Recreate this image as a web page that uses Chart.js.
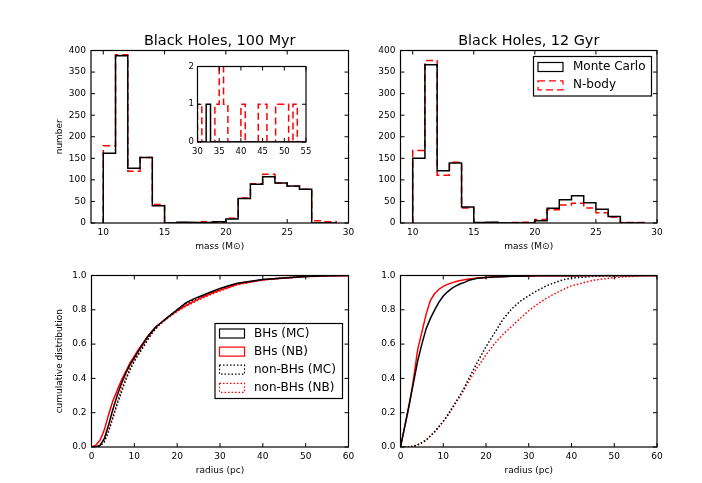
<!DOCTYPE html>
<html>
<head>
<meta charset="utf-8">
<script src="https://cdn.jsdelivr.net/npm/chart.js@4.4.1/dist/chart.umd.min.js"></script>
<style>
  html, body { margin: 0; padding: 0; background: #fff; }
  #wrap { position: relative; width: 702px; height: 483px; }
  canvas { position: absolute; left: 0; top: 0; }
</style>
</head>
<body>
<div id="wrap">
  <canvas id="hist100" width="702" height="483"></canvas>
  <canvas id="hist12" width="702" height="483"></canvas>
  <canvas id="cdf100" width="702" height="483"></canvas>
  <canvas id="cdf12" width="702" height="483"></canvas>
  <canvas id="inset" width="702" height="483"></canvas>
</div>
<script>
// mass histogram, 1 Msun bins from 10 to 29
const massEdges = [10, 11, 12, 13, 14, 15, 16, 17, 18, 19, 20, 21, 22, 23, 24, 25, 26, 27, 28, 29];
const mc100 = [162, 388, 127, 152, 40, 0, 2, 1, 1, 3, 9, 57, 90, 107, 93, 86, 78, 0, 0];
const nb100 = [179, 390, 120, 152, 43, 0, 1, 1, 3, 2, 11, 58, 91, 113, 93, 85, 78, 5, 3];
const mc12 = [150, 367, 121, 139, 37, 1, 2, 0, 0, 0, 5, 34, 54, 63, 47, 32, 15, 0, 0];
const nb12 = [168, 377, 111, 141, 35, 0, 1, 0, 1, 2, 8, 31, 42, 46, 35, 24, 14, 1, 1];

// inset: massive tail, 30 to 55 Msun
const insetEdges = [30, 31, 32, 33, 34, 35, 36, 37, 38, 39, 40, 41, 42, 43, 44, 45, 46, 47, 48, 49, 50, 51, 52, 53, 54, 55];
const insetMc = [0, 0, 1, 0, 0, 0, 0, 0, 0, 0, 0, 0, 0, 0, 0, 0, 0, 0, 0, 0, 0, 0, 0, 0, 0];
const insetNb = [1, 0, 0, 0, 1, 2, 1, 0, 0, 0, 1, 0, 0, 0, 1, 1, 0, 0, 1, 1, 1, 0, 1, 0, 0];

// cumulative radial distributions
const radius = [0, 1, 2, 3, 4, 5, 6, 7, 8, 9, 10, 11, 12, 13, 14, 15, 16, 18, 20, 22, 24, 26, 28, 30, 32, 34, 36, 38, 40, 45, 50, 55, 60];
const bhMc100 = [0, 0, 0.01, 0.05, 0.13, 0.22, 0.30, 0.37, 0.43, 0.48, 0.52, 0.56, 0.60, 0.64, 0.67, 0.70, 0.72, 0.76, 0.80, 0.84, 0.865, 0.885, 0.905, 0.925, 0.94, 0.955, 0.962, 0.97, 0.976, 0.986, 0.994, 0.998, 1];
const bhNb100 = [0, 0.01, 0.04, 0.10, 0.19, 0.27, 0.33, 0.39, 0.44, 0.49, 0.53, 0.57, 0.605, 0.64, 0.67, 0.70, 0.72, 0.76, 0.795, 0.825, 0.85, 0.875, 0.895, 0.915, 0.93, 0.95, 0.958, 0.967, 0.975, 0.986, 0.994, 0.998, 1];
const starMc100 = [0, 0, 0.005, 0.03, 0.09, 0.17, 0.25, 0.32, 0.39, 0.45, 0.50, 0.54, 0.58, 0.62, 0.66, 0.69, 0.72, 0.76, 0.80, 0.835, 0.86, 0.88, 0.90, 0.92, 0.937, 0.95, 0.96, 0.968, 0.976, 0.987, 0.994, 0.998, 1];
const starNb100 = [0, 0.002, 0.01, 0.04, 0.10, 0.18, 0.26, 0.34, 0.40, 0.46, 0.505, 0.545, 0.585, 0.625, 0.66, 0.69, 0.715, 0.755, 0.79, 0.82, 0.845, 0.87, 0.89, 0.91, 0.928, 0.945, 0.955, 0.965, 0.973, 0.985, 0.993, 0.997, 1];
const bhMc12 = [0, 0.12, 0.245, 0.37, 0.50, 0.60, 0.69, 0.75, 0.80, 0.845, 0.88, 0.905, 0.925, 0.94, 0.952, 0.96, 0.972, 0.984, 0.988, 0.991, 0.993, 0.995, 0.996, 0.997, 0.998, 0.998, 0.999, 0.999, 0.999, 1, 1, 1, 1];
const bhNb12 = [0, 0.12, 0.235, 0.39, 0.565, 0.67, 0.775, 0.855, 0.895, 0.92, 0.937, 0.948, 0.957, 0.965, 0.971, 0.975, 0.979, 0.986, 0.989, 0.992, 0.994, 0.995, 0.996, 0.997, 0.998, 0.998, 0.999, 0.999, 0.999, 1, 1, 1, 1];
const starMc12 = [0, 0, 0.001, 0.004, 0.012, 0.025, 0.04, 0.065, 0.09, 0.12, 0.15, 0.185, 0.225, 0.265, 0.305, 0.35, 0.40, 0.495, 0.585, 0.665, 0.745, 0.805, 0.85, 0.882, 0.912, 0.938, 0.958, 0.975, 0.985, 0.995, 0.998, 0.999, 1];
const starNb12 = [0, 0, 0.001, 0.004, 0.012, 0.025, 0.04, 0.063, 0.088, 0.117, 0.148, 0.182, 0.22, 0.26, 0.298, 0.34, 0.385, 0.465, 0.537, 0.603, 0.657, 0.703, 0.75, 0.795, 0.832, 0.865, 0.893, 0.918, 0.94, 0.972, 0.988, 0.996, 1];

// tick labels
const massTicks = [10, 15, 20, 25, 30];
const countTicks = [0, 50, 100, 150, 200, 250, 300, 350, 400];
const insetXTicks = [30, 35, 40, 45, 50, 55];
const insetYTicks = [0, 1, 2];
const radiusTicks = [0, 10, 20, 30, 40, 50, 60];
const cdfTicks = [0, 0.2, 0.4, 0.6, 0.8, 1.0];

Chart.defaults.font.family = '"DejaVu Sans", sans-serif';
Chart.defaults.font.size = 9;
Chart.defaults.color = '#000';

const RED = '#ff0000';

// outline of a step histogram
function stepPoints(edges, counts) {
    const pts = [{ x: edges[0], y: 0 }];
    for (let i = 0; i < counts.length; i++) {
        pts.push({ x: edges[i], y: counts[i] });
    }
    pts.push({ x: edges[edges.length - 1], y: 0 });
    return pts;
}

function curve(xs, ys) {
    return xs.map((x, i) => ({ x: x, y: ys[i] }));
}

// black frame with inward ticks on all four sides
function framePlugin(white) {
    return {
        id: 'frame',
        beforeDatasetsDraw(chart) {
            if (!white) return;
            const a = chart.chartArea;
            chart.ctx.save();
            chart.ctx.fillStyle = '#fff';
            chart.ctx.fillRect(a.left, a.top, a.width, a.height);
            chart.ctx.restore();
        },
        afterDraw(chart) {
            const ctx = chart.ctx;
            const a = chart.chartArea;
            const sx = chart.scales.x;
            const sy = chart.scales.y;
            ctx.save();
            ctx.strokeStyle = '#000';
            ctx.lineWidth = 1;
            ctx.beginPath();
            sx.ticks.forEach(t => {
                const px = sx.getPixelForValue(t.value);
                ctx.moveTo(px, a.bottom); ctx.lineTo(px, a.bottom - 4);
                ctx.moveTo(px, a.top); ctx.lineTo(px, a.top + 4);
            });
            sy.ticks.forEach(t => {
                const py = sy.getPixelForValue(t.value);
                ctx.moveTo(a.left, py); ctx.lineTo(a.left + 4, py);
                ctx.moveTo(a.right, py); ctx.lineTo(a.right - 4, py);
            });
            ctx.stroke();
            ctx.lineWidth = 1.2;
            ctx.strokeRect(a.left, a.top, a.width, a.height);
            ctx.restore();
        }
    };
}

// matplotlib style legend box
function legendPlugin(box) {
    return {
        id: 'boxLegend',
        afterDraw(chart) {
            const ctx = chart.ctx;
            ctx.save();
            ctx.fillStyle = '#fff';
            ctx.fillRect(box.x, box.y, box.w, box.h);
            ctx.strokeStyle = '#000';
            ctx.lineWidth = 1.2;
            ctx.strokeRect(box.x, box.y, box.w, box.h);
            chart.data.datasets.forEach((ds, i) => {
                const cy = box.row0 + i * box.gap;
                ctx.setLineDash(ds.borderDash || []);
                ctx.strokeStyle = ds.borderColor;
                ctx.lineWidth = 1.2;
                ctx.strokeRect(box.x + 4.5, cy - 4.5, 25, 9);
                ctx.setLineDash([]);
                ctx.fillStyle = '#000';
                ctx.font = '12px "DejaVu Sans"';
                ctx.textBaseline = 'middle';
                ctx.textAlign = 'left';
                ctx.fillText(ds.label, box.x + box.tx, cy);
            });
            ctx.restore();
        }
    };
}

function axis(ticks, min, max, opts) {
    return {
        type: 'linear',
        position: opts.position,
        min: min,
        max: max,
        grid: { display: false, drawTicks: false },
        border: { display: false },
        afterBuildTicks: s => { s.ticks = ticks.map(v => ({ value: v })); },
        afterFit: s => {
            if (opts.position === 'left') s.width = opts.size; else s.height = opts.size;
        },
        ticks: {
            autoSkip: false,
            maxRotation: 0,
            minRotation: 0,
            padding: opts.pad,
            font: { size: opts.font || 9 },
            callback: opts.fmt || (v => v)
        },
        title: {
            display: !!opts.title,
            text: opts.title || '',
            padding: 0,
            font: { size: 9 }
        }
    };
}

// area = page box of the plot frame
function panel(id, area, datasets, o) {
    const titleH = 14.4 * 1.2 + 0.86;
    const plugins = [framePlugin(!!o.white)];
    if (o.legend) plugins.push(legendPlugin(o.legend));
    return new Chart(document.getElementById(id), {
        type: 'line',
        data: { datasets: datasets },
        options: {
            responsive: false,
            animation: false,
            devicePixelRatio: 1,
            layout: {
                padding: {
                    left: area.left - o.yw,
                    right: 702 - area.right,
                    top: o.title ? area.top - titleH : area.top,
                    bottom: 483 - area.bottom - o.xh
                }
            },
            elements: { point: { radius: 0 }, line: { tension: 0 } },
            plugins: {
                legend: { display: false },
                tooltip: { enabled: false },
                title: {
                    display: !!o.title,
                    text: o.title || '',
                    fullSize: false,
                    font: { size: 14.4, weight: 'normal' },
                    padding: { top: 0, bottom: 0.86 }
                }
            },
            scales: {
                x: axis(o.xt, o.xmin, o.xmax, { position: 'bottom', size: o.xh, pad: o.xpad || 4.5, title: o.xlabel, font: o.font, fmt: o.xfmt }),
                y: axis(o.yt, o.ymin, o.ymax, { position: 'left', size: o.yw, pad: o.ypad || 5, title: o.ylabel, font: o.font, fmt: o.yfmt })
            }
        },
        plugins: plugins
    });
}

function histSets(mc, nb, edges) {
    return [
        { label: 'Monte Carlo', data: stepPoints(edges, mc), stepped: true, borderColor: '#000', borderWidth: 1.5, fill: false },
        { label: 'N-body', data: stepPoints(edges, nb), stepped: true, borderColor: RED, borderWidth: 1.5, borderDash: [7, 4], fill: false }
    ];
}

function cdfSets(bhMc, bhNb, stMc, stNb) {
    return [
        { label: 'BHs (MC)', data: curve(radius, bhMc), borderColor: '#000', borderWidth: 1.5 },
        { label: 'BHs (NB)', data: curve(radius, bhNb), borderColor: RED, borderWidth: 1.5 },
        { label: 'non-BHs (MC)', data: curve(radius, stMc), borderColor: '#000', borderWidth: 1.5, borderDash: [1.5, 2] },
        { label: 'non-BHs (NB)', data: curve(radius, stNb), borderColor: RED, borderWidth: 1.5, borderDash: [1.5, 2] }
    ];
}

const massLabel = 'mass (M\u2299)';

panel('hist100', { left: 91, top: 50.5, right: 348.5, bottom: 223 }, histSets(mc100, nb100, massEdges), {
    title: 'Black Holes, 100 Myr', yw: 37, xh: 29.4,
    xt: massTicks, xmin: 9, xmax: 30, yt: countTicks, ymin: 0, ymax: 400,
    xlabel: massLabel, ylabel: 'number'
});

panel('hist12', { left: 400.5, top: 50.5, right: 657, bottom: 223 }, histSets(mc12, nb12, massEdges), {
    title: 'Black Holes, 12 Gyr', yw: 37, xh: 29.4,
    xt: massTicks, xmin: 9, xmax: 30, yt: countTicks, ymin: 0, ymax: 400,
    xlabel: massLabel,
    legend: { x: 533.5, y: 56.5, w: 118, h: 39.5, row0: 67, gap: 18.3, tx: 39.5 }
});

panel('cdf100', { left: 91.5, top: 275.5, right: 348.5, bottom: 447 }, cdfSets(bhMc100, bhNb100, starMc100, starNb100), {
    yw: 37.5, xh: 28.6,
    xt: radiusTicks, xmin: 0, xmax: 60, yt: cdfTicks, ymin: 0, ymax: 1,
    xlabel: 'radius (pc)', ylabel: 'cumulative distribution',
    yfmt: v => v.toFixed(1),
    legend: { x: 215, y: 323.5, w: 127.5, h: 75, row0: 333.5, gap: 18.1, tx: 39 }
});

panel('cdf12', { left: 400.5, top: 275.5, right: 657, bottom: 447 }, cdfSets(bhMc12, bhNb12, starMc12, starNb12), {
    yw: 37, xh: 28.6,
    xt: radiusTicks, xmin: 0, xmax: 60, yt: cdfTicks, ymin: 0, ymax: 1,
    xlabel: 'radius (pc)',
    yfmt: v => v.toFixed(1)
});

panel('inset', { left: 197.5, top: 66.5, right: 306, bottom: 142 }, histSets(insetMc, insetNb, insetEdges), {
    yw: 15, xh: 16, white: true, font: 8.5, xpad: 5, ypad: 3.5,
    xt: insetXTicks, xmin: 30, xmax: 55, yt: insetYTicks, ymin: 0, ymax: 2
});
</script>
</body>
</html>
